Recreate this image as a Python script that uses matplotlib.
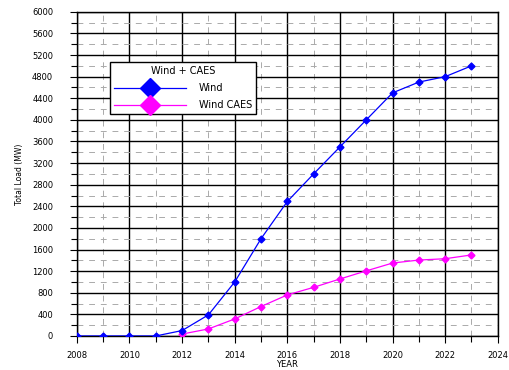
import numpy as np
import matplotlib.pyplot as plt
from matplotlib.ticker import MultipleLocator

years = [2008, 2009, 2010, 2011, 2012, 2013, 2014, 2015, 2016, 2017, 2018, 2019, 2020, 2021, 2022, 2023]
wind = [0, 0, 0, 0, 100, 390, 1000, 1800, 2490, 3000, 3500, 4000, 4500, 4700, 4800, 5000]
caes_years = [2012, 2013, 2014, 2015, 2016, 2017, 2018, 2019, 2020, 2021, 2022, 2023]
wind_caes = [35, 130, 315, 545, 760, 900, 1055, 1205, 1350, 1405, 1430, 1500]

fig = plt.figure(figsize=(5.09, 3.70), dpi=100)
ax = fig.add_axes([0.151, 0.092, 0.827, 0.876])

ax.plot(caes_years, wind_caes, color='#ff00ff', lw=0.9, marker='D', ms=3.5, label='Wind CAES', zorder=3)
ax.plot(years, wind, color='#0000ff', lw=0.9, marker='D', ms=3.5, label='Wind', zorder=4)

ax.set_xlim(2008, 2024)
ax.set_ylim(0, 6000)
ax.xaxis.set_major_locator(MultipleLocator(2))
ax.xaxis.set_minor_locator(MultipleLocator(1))
ax.yaxis.set_major_locator(MultipleLocator(400))
ax.yaxis.set_minor_locator(MultipleLocator(200))

ax.grid(which='major', color='black', lw=1.0, ls='-')
ax.grid(which='minor', color='#aaaaaa', lw=0.7, ls=(0, (6, 6)))
ax.set_axisbelow(True)

ax.tick_params(which='both', direction='out', labelsize=6, width=0.8, color='black')
ax.tick_params(which='major', length=5)
ax.tick_params(which='minor', length=4)
ax.tick_params(axis='y', which='major', pad=12)
ax.tick_params(axis='x', which='major', pad=6)
for s in ax.spines.values():
    s.set_linewidth(1.0)

ax.set_xlabel('YEAR', fontsize=6, labelpad=0)
ax.set_ylabel('Total Load (MW)', fontsize=5.5, labelpad=6)

h, l = ax.get_legend_handles_labels()
leg = ax.legend(h[::-1], l[::-1], title='Wind + CAES', loc='upper left',
                bbox_to_anchor=(0.078, 0.846), fontsize=7, title_fontsize=7,
                handlelength=7.5, markerscale=2.8, fancybox=False, framealpha=1,
                edgecolor='black', borderpad=0.4, labelspacing=0.75, handletextpad=1.3,
                borderaxespad=0)
leg.get_frame().set_linewidth(1.0)

fig.savefig('out.png', dpi=100)
